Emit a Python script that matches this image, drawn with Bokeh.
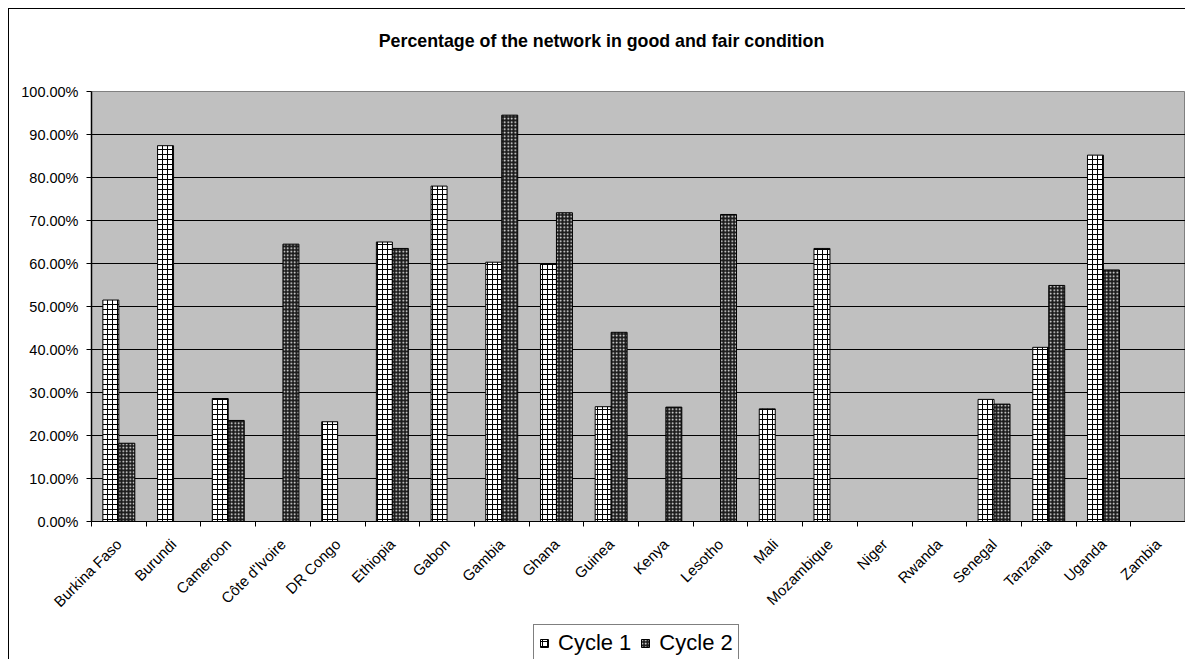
from bokeh.plotting import figure
from bokeh.layouts import column
from bokeh.models import (ColumnDataSource, FixedTicker, NumeralTickFormatter,
                          Legend, LegendItem, Label)
from bokeh.transform import dodge
from bokeh.embed import file_html
from bokeh.resources import INLINE
import math

nan = float("nan")

countries = ["Burkina Faso", "Burundi", "Cameroon", "Côte d'Ivoire", "DR Congo",
             "Ethiopia", "Gabon", "Gambia", "Ghana", "Guinea", "Kenya", "Lesotho",
             "Mali", "Mozambique", "Niger", "Rwanda", "Senegal", "Tanzania",
             "Uganda", "Zambia"]
cycle1 = [0.515, 0.874, 0.286, nan, 0.232, 0.650, 0.780, 0.603, 0.600, 0.267,
          nan, nan, 0.262, 0.635, nan, nan, 0.284, 0.405, 0.852, nan]
cycle2 = [0.182, nan, 0.235, 0.645, nan, 0.635, nan, 0.945, 0.718, 0.440,
          0.266, 0.714, nan, nan, nan, nan, 0.273, 0.549, 0.585, nan]
y_ticks = [i / 10 for i in range(11)]
title_text = "Percentage of the network in good and fair condition"

n = len(countries)
centers = [i + 0.5 for i in range(n)]
src = ColumnDataSource(dict(x=centers, c1=cycle1, c2=cycle2))

FONT = "Liberation Sans"
BAR_W = 0.292
W = 1176

C1_STYLE = dict(fill_color="white", line_color="black", line_width=1,
                hatch_pattern="cross", hatch_color="black", hatch_scale=5,
                hatch_weight=1)
C2_STYLE = dict(fill_color="#1c1c1c", line_color="black", line_width=1,
                hatch_pattern="dot", hatch_color="white", hatch_scale=3.5,
                hatch_weight=1)


def strip_figure(height):
    f = figure(width=W, height=height, x_axis_type=None, y_axis_type=None,
               output_backend="svg", toolbar_location=None, min_border=0,
               x_range=(0, n), y_range=(0, 1))
    f.outline_line_color = None
    f.background_fill_color = "white"
    f.border_fill_color = "white"
    f.xgrid.visible = False
    f.ygrid.visible = False
    return f


# --- title strip (frame is aligned with the chart's frame in the column) ---
head = strip_figure(62)
head.add_layout(Label(x=510, y=31, x_units="screen", y_units="screen",
                      text=title_text, text_font=FONT, text_font_size="17.8px",
                      text_font_style="bold", text_color="black",
                      text_align="center", text_baseline="middle"))

# --- main chart ---
p = figure(width=W, height=548, x_range=(0, n), y_range=(0, 1),
           output_backend="svg", toolbar_location=None,
           min_border_left=82, min_border_right=0, min_border_top=20,
           min_border_bottom=95)
p.background_fill_color = "#C0C0C0"
p.border_fill_color = "white"
p.outline_line_color = "#808080"
p.outline_line_width = 1

p.vbar(x=dodge("x", -BAR_W / 2), top="c1", width=BAR_W, source=src, **C1_STYLE)
p.vbar(x=dodge("x", BAR_W / 2), top="c2", width=BAR_W, source=src, **C2_STYLE)

# y axis: percentages with two decimals
yax = p.yaxis[0]
yax.ticker = FixedTicker(ticks=y_ticks)
yax.formatter = NumeralTickFormatter(format="0.00%")
yax.major_label_text_font = FONT
yax.major_label_text_font_size = "14.5px"
yax.major_label_text_color = "black"
yax.axis_line_color = "black"
yax.axis_line_width = 1.5
yax.major_tick_out = 5
yax.major_tick_in = 0
yax.major_tick_line_color = "black"
yax.minor_tick_line_color = None
yax.major_label_standoff = 8

# x axis: country names at category centres, ticks between categories
xax = p.xaxis[0]
xax.ticker = FixedTicker(ticks=centers, minor_ticks=list(range(n + 1)))
xax.major_label_overrides = {c: name for c, name in zip(centers, countries)}
xax.major_label_orientation = math.pi / 4
xax.major_label_text_font = FONT
xax.major_label_text_font_size = "15px"
xax.major_label_text_color = "black"
xax.major_tick_out = 0
xax.major_tick_in = 0
xax.minor_tick_out = 5
xax.minor_tick_in = 0
xax.minor_tick_line_color = "black"
xax.axis_line_color = "black"
xax.axis_line_width = 1
xax.major_label_standoff = 15

p.xgrid.grid_line_color = None
p.ygrid.ticker = FixedTicker(ticks=y_ticks[1:-1])
p.ygrid.grid_line_color = "black"
p.ygrid.grid_line_width = 1

# --- legend strip: key swatches come from hidden copies of the bar renderers ---
foot = strip_figure(40)
k1 = foot.vbar(x=dodge("x", -BAR_W / 2), top="c1", width=BAR_W, source=src,
               visible=False, **C1_STYLE)
k2 = foot.vbar(x=dodge("x", BAR_W / 2), top="c2", width=BAR_W, source=src,
               visible=False, **C2_STYLE)
legend = Legend(items=[LegendItem(label="Cycle 1", renderers=[k1]),
                       LegendItem(label="Cycle 2", renderers=[k2])],
                orientation="horizontal", location=(442, -3),
                label_text_font=FONT, label_text_font_size="22px",
                label_text_color="black", glyph_width=10, glyph_height=10,
                label_standoff=9, spacing=9, padding=5, margin=0,
                inactive_fill_alpha=0,
                border_line_color="black", border_line_width=1,
                background_fill_color="white", background_fill_alpha=1)
foot.add_layout(legend, "center")

page = column(head, p, foot, spacing=0)
page.styles = {"margin-left": "8px", "margin-top": "8px",
               "border-left": "1px solid #000", "border-top": "1px solid #000"}

open("out.html", "w").write(file_html(page, INLINE))
